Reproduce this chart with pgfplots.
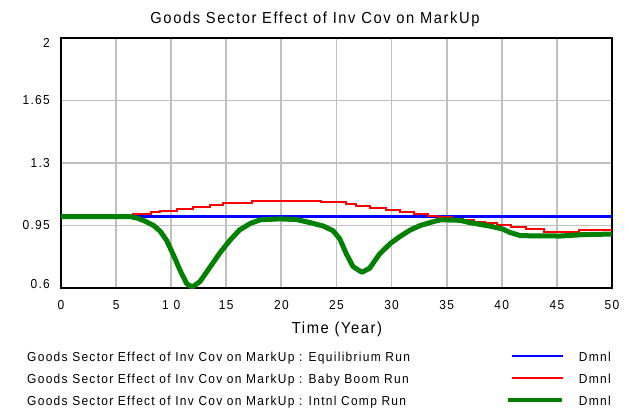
\documentclass[border=0pt]{standalone}
\usepackage{fontspec}
\setmainfont[LetterSpace=10]{Liberation Sans}
\newfontfamily\bigfont[LetterSpace=10, FakeStretch=0.92]{Liberation Sans}
\usepackage{pgfplots}
\pgfplotsset{compat=1.18}
\definecolor{vgreen}{RGB}{0,128,0}
\definecolor{vgrid}{RGB}{192,192,192}
\begin{document}
\begin{tikzpicture}[x=1pt,y=1pt]
\useasboundingbox (0,0) rectangle (630,413);
\begin{axis}[
  at={(61pt,125pt)}, anchor=south west,
  scale only axis, width=551pt, height=250pt,
  xmin=0, xmax=50, ymin=0.6, ymax=2,
  xtick={0,5,...,50}, ytick={0.6,0.95,1.3,1.65,2},
  yticklabels={\raisebox{4pt}[9pt][0pt]{0.6},0.95,1.3,1.65,\raisebox{-5pt}[9pt][0pt]{2}},
  xticklabels={0,5,1 0,15,20,25,30,35,40,45,50},
  /pgf/number format/assume math mode=true,
  tick label style={font=\bigfont\fontsize{13}{15}\selectfont, inner sep=0pt},
  xticklabel style={anchor=base, yshift=-21pt},
  yticklabel style={anchor=east, xshift=-11pt},
  major tick length=0pt,
  grid=major,
  major grid style={draw=vgrid, line width=1.8pt},
  axis line style={line width=2.2pt},
  clip=true,
]
\addplot[blue, line width=2.6pt] coordinates {(0,1.0) (50,1.0)};
\addplot[red, line width=2pt, const plot] coordinates {
(0,1.0) (6.5,1.012) (8.2,1.023) (9.0,1.034) (10.5,1.045) (12.0,1.056)
(13.5,1.067) (14.7,1.078) (17.3,1.09) (23.6,1.08) (25.9,1.072) (26.8,1.061)
(28.0,1.05) (29.5,1.038) (30.8,1.027) (32.0,1.015) (33.3,1.005) (34.2,0.995)
(35.5,0.988) (36.5,0.98) (37.5,0.972) (38.5,0.962) (39.6,0.952) (40.8,0.94)
(42.2,0.928) (43.8,0.915) (47.0,0.923) (50,0.923)};
\addplot[vgreen, line width=5pt, line join=round] coordinates {
(0,1.0) (6.3,1.0) (7.0,0.99) (7.6,0.975) (8.4,0.95) (9.0,0.918) (9.6,0.865)
(10.2,0.785) (10.8,0.70) (11.4,0.625) (11.9,0.605) (12.6,0.635) (13.5,0.715)
(14.4,0.795) (15.3,0.865) (16.2,0.925) (17.2,0.962) (18.1,0.982) (19.9,0.987)
(21.4,0.983) (22.6,0.966) (23.8,0.947) (24.7,0.92) (25.3,0.875) (25.9,0.79)
(26.5,0.72) (27.3,0.688) (28.0,0.71) (28.9,0.79) (29.9,0.85) (30.8,0.89)
(31.7,0.925) (32.6,0.95) (33.8,0.972) (34.5,0.982) (36.2,0.979) (37.1,0.966)
(38.9,0.947) (40.1,0.93) (40.7,0.912) (41.7,0.893) (45.3,0.891) (47.4,0.899)
(50,0.902)};
\end{axis}
\node[anchor=base, font=\bigfont\fontsize{16}{18}\selectfont, inner sep=0pt] at (315,389) {Goods Sector Effect of Inv Cov on MarkUp};
\node[anchor=base, font=\bigfont\fontsize{16}{18}\selectfont, inner sep=0pt] at (337,80) {Time (Year)};
\begin{scope}[every node/.style={font=\bigfont\fontsize{13}{15}\selectfont, inner sep=0pt}]
\node[anchor=base west] at (27,52) {Goods Sector Effect of Inv Cov on MarkUp : Equilibrium Run};
\node[anchor=base west] at (27,30) {Goods Sector Effect of Inv Cov on MarkUp : Baby Boom Run};
\node[anchor=base west] at (27,8) {Goods Sector Effect of Inv Cov on MarkUp : Intnl Comp Run};
\draw[blue, line width=2.2pt] (512,57) -- (563,57);
\draw[red, line width=2pt] (512,35) -- (563,35);
\draw[vgreen, line width=4.5pt] (508,13) -- (562,13);
\node[anchor=base east] at (611,52) {Dmnl};
\node[anchor=base east] at (611,30) {Dmnl};
\node[anchor=base east] at (611,8) {Dmnl};
\end{scope}
\end{tikzpicture}
\end{document}
